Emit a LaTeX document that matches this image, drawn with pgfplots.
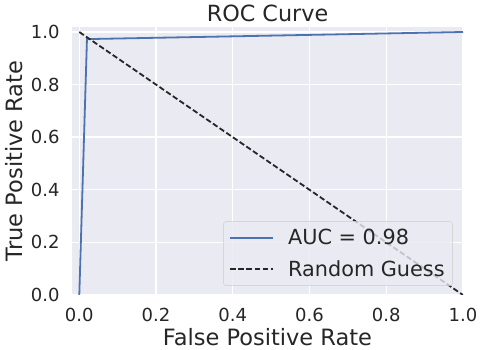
\documentclass[border=0pt]{standalone}
\usepackage{fontspec}
\setmainfont{DejaVu Sans}
\usepackage{pgfplots}
\pgfplotsset{compat=1.18}
\definecolor{sbblue}{HTML}{4C72B0}
\definecolor{sbbg}{HTML}{EAEAF2}
\definecolor{txt}{HTML}{262626}
\begin{document}
\begin{tikzpicture}[x=1pt,y=1pt]
\useasboundingbox (0,0) rectangle (480,350);
\begin{axis}[
  at={(72pt,55pt)}, anchor=south west,
  scale only axis, width=391pt, height=268pt,
  xmin=-0.019, xmax=1.0, ymin=0, ymax=1.019,
  axis background/.style={fill=sbbg},
  axis line style={draw=none},
  major tick length=0pt,
  grid=major,
  major grid style={white, line width=1.4pt},
  xtick={0,0.2,0.4,0.6,0.8,1.0},
  ytick={0,0.2,0.4,0.6,0.8,1.0},
  /pgf/number format/.cd, fixed, fixed zerofill, precision=1, assume math mode=true,
  /pgfplots/.cd,
  tick label style={font=\fontsize{18}{20}\selectfont, text=txt},
  xticklabel style={yshift=-10pt},
  yticklabel style={xshift=-9pt},
  xlabel={False Positive Rate},
  ylabel={True Positive Rate},
  title={ROC Curve},
  label style={font=\fontsize{22.5}{26}\selectfont, text=txt, inner sep=0pt},
  title style={font=\fontsize{22.3}{26}\selectfont, text=txt, at={(axis description cs:0.5,1)}, anchor=center, yshift=8pt},
  xlabel style={at={(axis description cs:0.5,0)}, anchor=base, yshift=-51pt},
  ylabel style={at={(axis description cs:0,0.5)}, anchor=center, yshift=58pt},
  legend style={at={(axis description cs:0.974,0.034)}, anchor=south east,
    fill=sbbg, fill opacity=0.8, text opacity=1, draw=white!80!black, rounded corners=3pt,
    font=\fontsize{20.8}{24}\selectfont, text=txt, row sep=10pt, inner xsep=6pt, inner ysep=6pt,
    /tikz/every odd column/.append style={column sep=12pt}},
  legend cell align=left,
  legend image code/.code={\draw[#1] (0pt,0pt) -- (43pt,0pt);},
  clip=true,
]
\addplot[sbblue, line width=1.8pt] coordinates {(0,0) (0.02,0.973) (1.0,1.0)};
\addlegendentry{AUC = 0.98}
\addplot[black!85, line width=1.8pt, dash pattern=on 5.5pt off 2.6pt] coordinates {(0,1) (1,0)};
\addlegendentry{Random Guess}
\end{axis}
\end{tikzpicture}
\end{document}
